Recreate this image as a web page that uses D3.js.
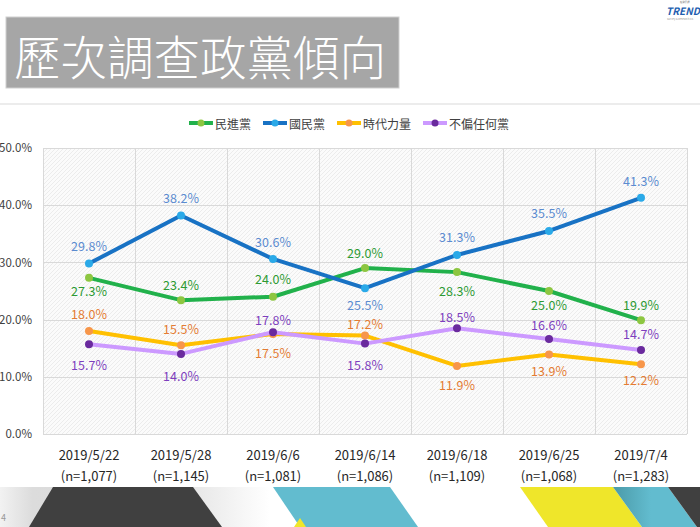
<!DOCTYPE html>
<html><head><meta charset="utf-8">
<script src="https://cdn.jsdelivr.net/npm/d3@7"></script>
<style>
html,body{margin:0;padding:0;background:#fff;}
svg{display:block;}
text{font-family:"Noto Sans CJK TC","Noto Sans",sans-serif;}
</style></head>
<body>
<script>
const categories = ["2019/5/22","2019/5/28","2019/6/6","2019/6/14","2019/6/18","2019/6/25","2019/7/4"];
const sampleSizes = ["(n=1,077)","(n=1,145)","(n=1,081)","(n=1,086)","(n=1,109)","(n=1,068)","(n=1,283)"];
const seriesNames = ["民進黨","國民黨","時代力量","不偏任何黨"];
const dpp   = [27.3,23.4,24.0,29.0,28.3,25.0,19.9];
const kmt   = [29.8,38.2,30.6,25.5,31.3,35.5,41.3];
const npp   = [18.0,15.5,17.5,17.2,11.9,13.9,12.2];
const indep = [15.7,14.0,17.8,15.8,18.5,16.6,14.7];
const yTicks = [0,10,20,30,40,50];
const titleText = "歷次調查政黨傾向";

// label placement (layout): vertical offset of each data label from its point, px
const dppOff   = [13,-16,-18,-16, 18, 13,-16];
const kmtOff   = [-18,-18,-17, 16,-18,-18,-17];
const nppOff   = [-18,-17, 19,-12, 19, 16, 15];
const indepOff = [20, 22,-13, 21,-12,-15,-16];

(function(){
const W = 700, H = 527;
const svg = d3.select("body").append("svg").attr("width",W).attr("height",H);
const defs = svg.append("defs");

// hatch pattern
const pat = defs.append("pattern").attr("id","hatch").attr("patternUnits","userSpaceOnUse")
  .attr("width",4).attr("height",4);
pat.append("rect").attr("width",4).attr("height",4).attr("fill","#fbfbfb");
pat.append("path").attr("d","M-1,1 l2,-2 M0,4 l4,-4 M3,5 l2,-2").attr("stroke","#ececec").attr("stroke-width",1);

// bottom gradients
const g1 = defs.append("linearGradient").attr("id","bgGrad").attr("x1",0).attr("x2",1).attr("y1",0).attr("y2",0);
[[0,"#f2f2f2"],[0.12,"#dcdcdc"],[0.55,"#d9d9d9"],[0.8,"#eeeeee"],[1,"#ffffff"]].forEach(s=>g1.append("stop").attr("offset",s[0]).attr("stop-color",s[1]));
const g2 = defs.append("linearGradient").attr("id","cyGrad").attr("x1",0).attr("x2",1).attr("y1",0).attr("y2",0);
[[0,"#4b9aa8"],[0.45,"#62bccf"],[1,"#62bccf"]].forEach(s=>g2.append("stop").attr("offset",s[0]).attr("stop-color",s[1]));

// Title box
svg.append("rect").attr("x",6).attr("y",17).attr("width",393).attr("height",71)
  .attr("fill","#a6a6a6").attr("stroke","#cfcfcf").attr("stroke-width",1);
svg.append("text").attr("x",14).attr("y",54).attr("dominant-baseline","central")
  .attr("fill","#fff").attr("font-size",46.5).attr("font-weight",300).text(titleText);
// separator
svg.append("rect").attr("x",0).attr("y",103).attr("width",W).attr("height",2).attr("fill","#ececec");

// logo
svg.append("text").attr("x",680).attr("y",2.6).attr("font-size",2.4).attr("fill","#777").text("趨勢民調");
svg.append("text").attr("x",666).attr("y",15).attr("font-size",10).attr("font-weight",700)
  .attr("font-style","italic").attr("fill","#1f5fb0").attr("font-family","Liberation Sans").text("TREND");
svg.append("text").attr("x",667).attr("y",20).attr("font-size",2.6).attr("fill","#999").text("Survey & Research Co.");

// plot geometry
const pLeft = 43, pRight = 687, pTop = 148, pBottom = 434;
const x = d3.scaleBand().domain(categories).range([pLeft,pRight]).paddingInner(0).paddingOuter(0);
const y = d3.scaleLinear().domain([0,50]).range([pBottom,pTop]);
const cx = d => x(d) + x.bandwidth()/2;

svg.append("rect").attr("x",pLeft).attr("y",pTop).attr("width",pRight-pLeft).attr("height",pBottom-pTop)
  .attr("fill","url(#hatch)");

// gridlines
const grid = svg.append("g").attr("stroke","#d9d9d9").attr("stroke-width",1);
yTicks.forEach(t=>grid.append("line").attr("x1",pLeft).attr("x2",pRight)
  .attr("y1",Math.round(y(t))+0.5).attr("y2",Math.round(y(t))+0.5));
categories.forEach(c=>{ grid.append("line").attr("x1",Math.round(x(c))+0.5).attr("x2",Math.round(x(c))+0.5).attr("y1",pTop).attr("y2",pBottom); });
grid.append("line").attr("x1",pRight+0.5).attr("x2",pRight+0.5).attr("y1",pTop).attr("y2",pBottom);

// y axis
const yAxis = d3.axisLeft(y).tickValues(yTicks).tickFormat(d=>d3.format(".1f")(d)+"%").tickSize(0).tickPadding(0);
const ya = svg.append("g").attr("transform",`translate(${32},0)`).call(yAxis);
ya.select(".domain").remove();
ya.selectAll("text").attr("font-size",11.5).attr("fill","#404040").attr("font-family","\"Noto Sans CJK TC\",sans-serif");

// x axis
const xAxis = d3.axisBottom(x).tickSize(0).tickPadding(0).tickFormat(()=>"");
const xa = svg.append("g").attr("transform",`translate(0,${pBottom})`).call(xAxis);
xa.select(".domain").remove();
xa.selectAll(".tick").each(function(d,i){
  const g = d3.select(this);
  g.append("text").attr("y",20).attr("text-anchor","middle").attr("dominant-baseline","central")
    .attr("font-size",13).attr("fill","#262626").text(d);
  g.append("text").attr("y",41).attr("text-anchor","middle").attr("dominant-baseline","central")
    .attr("font-size",13).attr("fill","#262626").text(sampleSizes[i]);
});

// series
const series = [
  {name:seriesNames[0], values:dpp,   off:dppOff,   line:"#21b14b", dot:"#8dc641", label:"#2d9a33"},
  {name:seriesNames[1], values:kmt,   off:kmtOff,   line:"#1872c4", dot:"#2aa9e8", label:"#5b8bd0"},
  {name:seriesNames[2], values:npp,   off:nppOff,   line:"#ffc000", dot:"#f7964a", label:"#e47c33"},
  {name:seriesNames[3], values:indep, off:indepOff, line:"#cc99ff", dot:"#6a2a9e", label:"#7e3fbe"}
];
const lineGen = d3.line().x((d,i)=>cx(categories[i])).y(d=>y(d));
series.forEach(s=>{
  svg.append("path").attr("d",lineGen(s.values)).attr("fill","none").attr("stroke",s.line)
    .attr("stroke-width",4).attr("stroke-linejoin","round").attr("stroke-linecap","round");
  svg.selectAll(null).data(s.values).enter().append("circle")
    .attr("cx",(d,i)=>cx(categories[i])).attr("cy",d=>y(d)).attr("r",4).attr("fill",s.dot);
});
series.forEach(s=>{
  svg.selectAll(null).data(s.values).enter().append("text")
    .attr("x",(d,i)=>cx(categories[i]))
    .attr("y",(d,i)=>y(d) + s.off[i])
    .attr("text-anchor","middle").attr("dominant-baseline","central")
    .attr("font-size",12.5).attr("fill",s.label)
    .text(d=>d3.format(".1f")(d)+"%");
});

// legend
const leg = svg.append("g");
let lx = 0;
series.forEach(s=>{
  const item = leg.append("g").attr("transform",`translate(${lx},0)`);
  item.append("line").attr("x1",0).attr("x2",24).attr("y1",0).attr("y2",0).attr("stroke",s.line).attr("stroke-width",4);
  item.append("circle").attr("cx",12).attr("cy",0).attr("r",3.5).attr("fill",s.dot);
  const t = item.append("text").attr("x",26).attr("y",0).attr("dominant-baseline","central")
    .attr("font-size",12).attr("fill","#404040").text(s.name);
  lx += 26 + t.node().getComputedTextLength() + 12;
});
const legW = lx - 12;
leg.attr("transform",`translate(${(349 - legW/2)},${123})`);

// bottom decoration
svg.append("rect").attr("x",0).attr("y",487).attr("width",270).attr("height",40).attr("fill","url(#bgGrad)");
const poly = (pts,fill)=>svg.append("polygon").attr("points",pts.map(p=>p.join(",")).join(" ")).attr("fill",fill);
poly([[53,487],[193,487],[222,527],[29,527]],"#404040");
poly([[273,487],[390,487],[418,527],[300,527]],"#62bccf");
poly([[294,527],[300,518],[306,527]],"#efe62a");
poly([[520,487],[613,487],[642,527],[548,527]],"#efe62a");
poly([[613,487],[668,487],[697,527],[642,527]],"url(#cyGrad)");
poly([[668,487],[700,487],[700,527],[697,527]],"#404040");
svg.append("text").attr("x",1).attr("y",521).attr("font-size",9).attr("fill","#999").text("4");
})();
</script>
</body></html>
